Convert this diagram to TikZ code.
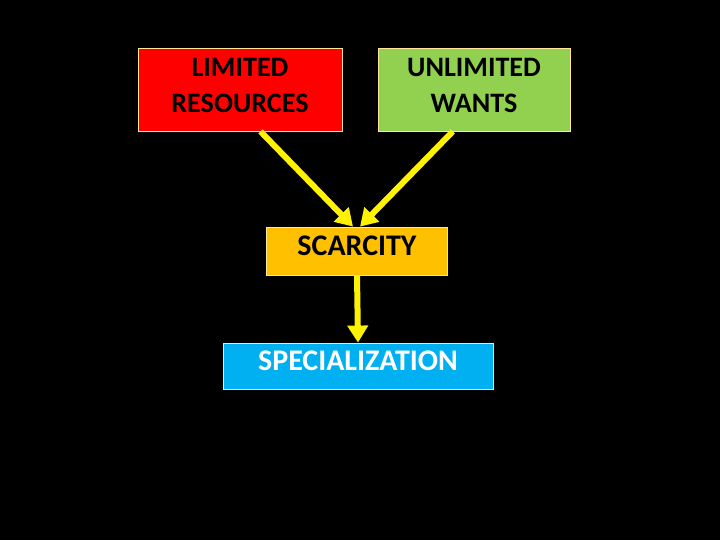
\documentclass[tikz,border=0pt]{standalone}
\usepackage{fontspec}
\setmainfont{Carlito}
\usetikzlibrary{arrows.meta,calc}
\definecolor{boxred}{RGB}{255,0,0}
\definecolor{boxgreen}{RGB}{146,208,80}
\definecolor{boxorange}{RGB}{255,192,0}
\definecolor{boxblue}{RGB}{0,176,240}
\definecolor{rimyellow}{RGB}{255,230,153}
\begin{document}
\begin{tikzpicture}[x=0.025cm, y=-0.025cm, >={Triangle[width=20*0.025cm, length=17*0.025cm]},
    font=\fontsize{20}{26}\selectfont\bfseries,
    box/.style={draw=rimyellow, line width=0.6pt, inner sep=0pt, align=center},
    twoline/.style={text depth=6pt},
    lift/.style={text depth=7pt, font=\fontsize{21.3}{26}\selectfont\bfseries},
    flow/.style={->, yellow, line width=6*0.025cm}]
			% Hintergrund
			\fill[black] (0,0) rectangle (720,540);
			% Kaesten
			\node[box, twoline, fill=boxred, minimum width=204*0.025cm, minimum height=83*0.025cm] (lim) at (240,89.5) {LIMITED\\RESOURCES};
			\node[box, twoline, fill=boxgreen, minimum width=192*0.025cm, minimum height=83*0.025cm] (unlim) at (474,89.5) {UNLIMITED\\WANTS};
			\node[box, lift, fill=boxorange, minimum width=181*0.025cm, minimum height=48*0.025cm] (scar) at (357,251) {SCARCITY};
			\node[box, lift, fill=boxblue, text=white, minimum width=270*0.025cm, minimum height=46*0.025cm] (spec) at (358,366) {SPECIALIZATION};
			% Pfeile
			\draw[flow] ($(lim.south west)!0.6!(lim.south east)$) -- ($(scar.north)+(-4,0)$);
			\draw[flow] ($(unlim.south west)!0.39!(unlim.south east)$) -- ($(scar.north)+(3,0)$);
			\draw[flow] (scar.south) -- (spec.north);
\end{tikzpicture}
\end{document}
